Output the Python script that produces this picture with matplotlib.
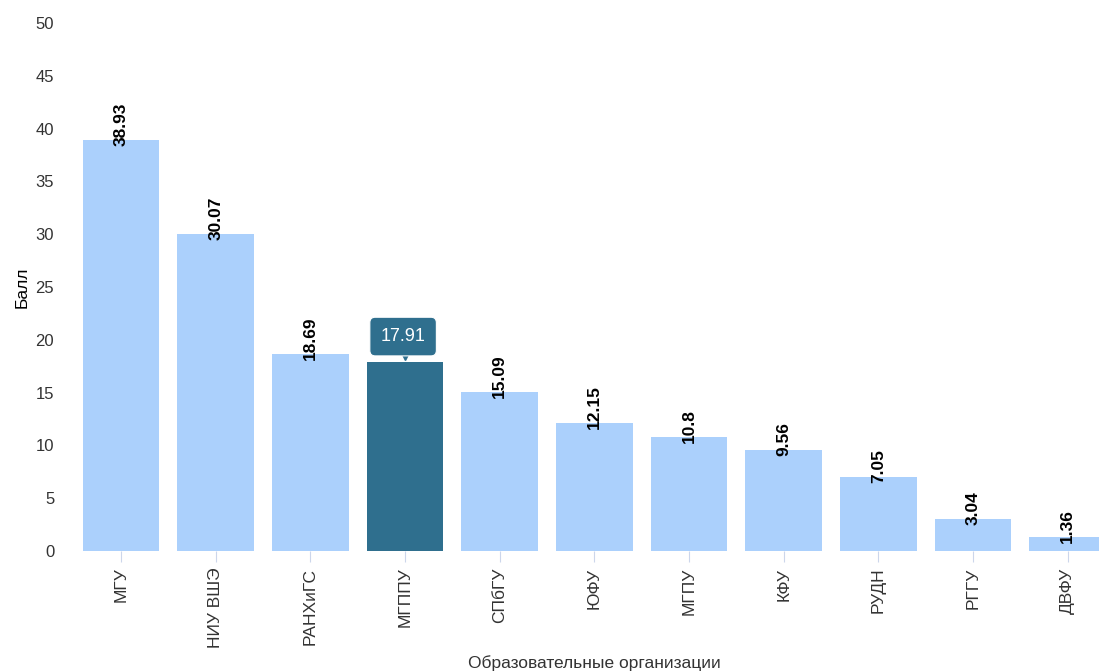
import matplotlib.pyplot as plt

plt.rcParams['font.family'] = ['Liberation Sans', 'DejaVu Sans']

# данные
orgs = ['МГУ', 'НИУ ВШЭ', 'РАНХиГС', 'МГППУ', 'СПбГУ', 'ЮФУ', 'МГПУ', 'КФУ', 'РУДН', 'РГГУ', 'ДВФУ']
scores = [38.93, 30.07, 18.69, 17.91, 15.09, 12.15, 10.8, 9.56, 7.05, 3.04, 1.36]
labels = ['38.93', '30.07', '18.69', '17.91', '15.09', '12.15', '10.8', '9.56', '7.05', '3.04', '1.36']
highlight = 'МГППУ'

light = '#abd0fc'
dark = '#2f6f8e'

fig = plt.figure(figsize=(10.99, 6.72), dpi=100)
ax = fig.add_axes([0.067, 0.18, 0.9476, 0.7857])

colors = [dark if o == highlight else light for o in orgs]
x = list(range(len(orgs)))
ax.bar(x, scores, width=0.81, color=colors)

for i, (v, t) in enumerate(zip(scores, labels)):
    if orgs[i] == highlight:
        continue
    ax.text(i, v - 0.6, t, rotation=90, ha='center', va='bottom',
            fontsize=12.5, fontweight='bold', color='#000000')

# подсказка над выделенным столбцом
hi = orgs.index(highlight)
ax.text(hi - 0.02, scores[hi] + 2.4, '17.91', ha='center', va='center', fontsize=13,
        color='white',
        bbox=dict(boxstyle='round,pad=0.6,rounding_size=0.3', fc=dark, ec='#ffffff', lw=0.8))
ax.plot([hi], [scores[hi] + 0.75], marker='v', markersize=9, color=dark, clip_on=False)

ax.set_xlim(-0.5, len(orgs) - 0.5)
ax.set_ylim(0, 50)
ax.set_yticks(range(0, 51, 5))
ax.set_xticks(x)
ax.set_xticklabels(orgs, rotation=90, fontsize=12.5, color='#333333')
ax.tick_params(axis='y', length=0, labelsize=12, labelcolor='#333333', pad=14)
ax.tick_params(axis='x', length=8, color='#ccd6eb', pad=4)

for s in ax.spines.values():
    s.set_visible(False)

ax.set_ylabel('Балл', fontsize=12.5, color='#000000', labelpad=4)
ax.set_xlabel('Образовательные организации', fontsize=12.5, color='#333333', labelpad=5)

plt.savefig('out.png', dpi=100)
